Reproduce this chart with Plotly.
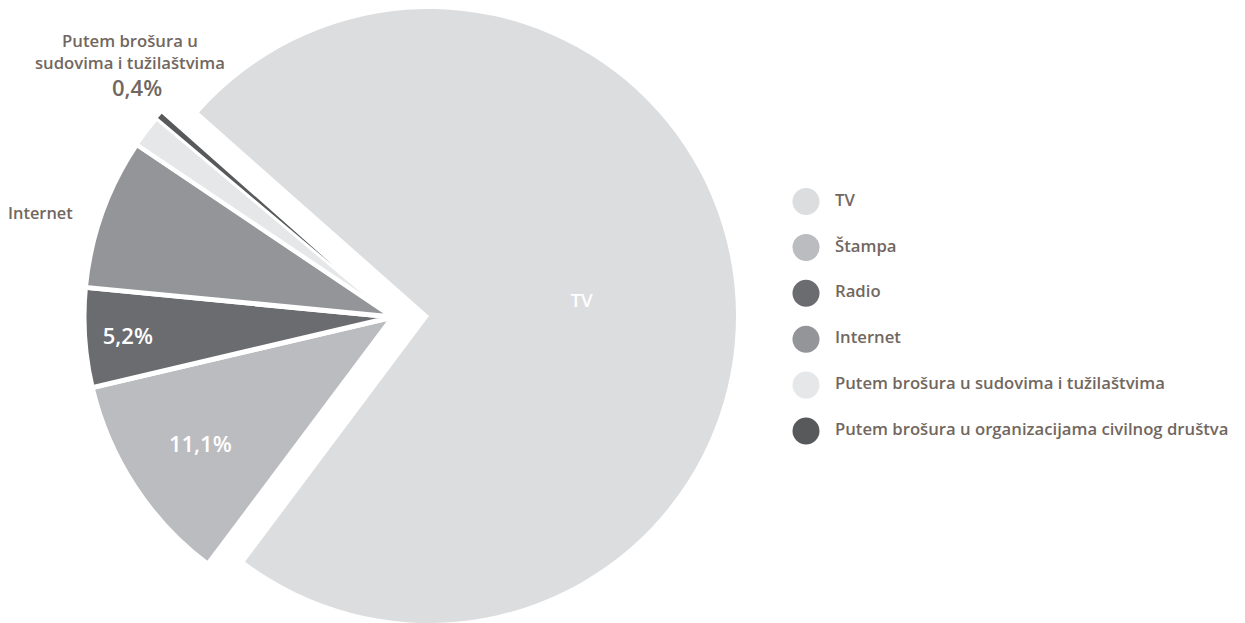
import plotly.graph_objects as go

labels = ["TV", "Štampa", "Radio", "Internet",
          "Putem brošura u sudovima i tužilaštvima",
          "Putem brošura u organizacijama civilnog društva"]
values = [73.7, 11.1, 5.2, 7.9, 1.7, 0.4]
colors = ["#dcdddf", "#bbbcbf", "#6b6c70", "#939598", "#e6e7e8", "#58595b"]
inside_text = ["TV", "11,1%", "5,2%", "", "", ""]
callout_title = "Putem brošura u<br>sudovima i tužilaštvima"
callout_value = "0,4%"

W, H = 1245, 623
TXT = "#716760"
FONT = "Open Sans"
CLEAR = "rgba(0,0,0,0)"

def xdom(cx, size):
    return [(cx - size / 2) / W, (cx + size / 2) / W]

fig = go.Figure()

# TV slice, pulled away to the right
tv_size = 614
fig.add_trace(go.Pie(
    labels=labels, values=values, sort=False, direction="clockwise",
    rotation=-48.5,
    marker=dict(colors=[colors[0]] + [CLEAR] * 5,
                line=dict(color="white", width=0)),
    text=[inside_text[0]] + [""] * 5, textinfo="text",
    textposition=["inside"] + ["none"] * 5,
    insidetextorientation="horizontal",
    textfont=dict(family=FONT, size=18.8, color="white", weight=600),
    domain=dict(x=xdom(421, tv_size), y=[(H - 615) / H, (H - 1) / H]),
    hoverinfo="skip", showlegend=False,
))

# the remaining slices
rest_size = 618
fig.add_trace(go.Pie(
    labels=labels, values=values, sort=False, direction="clockwise",
    rotation=-48.5,
    marker=dict(colors=[CLEAR] + colors[1:],
                line=dict(color="white", width=[0, 5, 5, 5, 4, 2])),
    text=[""] + inside_text[1:], textinfo="text",
    textposition=["none", "inside", "inside", "none", "none", "none"],
    insidetextorientation="horizontal",
    insidetextfont=dict(family=FONT, size=22, color="white", weight=600),
    domain=dict(x=xdom(385, rest_size), y=[(H - rest_size) / H, 1]),
    hoverinfo="skip", showlegend=False,
))

# legend drawn as circles + text
idx = list(range(len(labels)))
fig.add_trace(go.Scatter(
    x=[0] * len(labels), y=idx, mode="markers",
    marker=dict(size=27, color=colors, line=dict(width=0)),
    cliponaxis=False, hoverinfo="skip", showlegend=False,
))
fig.add_trace(go.Scatter(
    x=[0.0649] * len(labels), y=idx, mode="text", text=labels,
    textposition="middle right",
    textfont=dict(family=FONT, size=16.7, color=TXT, weight=600),
    cliponaxis=False, hoverinfo="skip", showlegend=False,
))

fig.update_layout(
    width=W, height=H,
    margin=dict(l=0, r=0, t=0, b=0, autoexpand=False),
    paper_bgcolor="white", plot_bgcolor="rgba(0,0,0,0)",
    xaxis=dict(domain=[798 / W, 1], range=[0, 1], visible=False, fixedrange=True),
    yaxis=dict(domain=[1 - 423 / H, 1 - 193.5 / H], range=[5, 0], visible=False, fixedrange=True),
    showlegend=False,
    annotations=[
        dict(text=labels[3], xref="paper", yref="paper", x=67 / W, y=1 - 204.5 / H,
             xanchor="right", yanchor="middle", showarrow=False,
             font=dict(family=FONT, size=16.4, color=TXT, weight=600)),
        dict(text=callout_title,
             xref="paper", yref="paper", x=122 / W, y=1 - 43.5 / H,
             xanchor="center", yanchor="middle", align="center", showarrow=False,
             font=dict(family=FONT, size=16.7, color=TXT, weight=600)),
        dict(text=callout_value,
             xref="paper", yref="paper", x=129 / W, y=1 - 79 / H,
             xanchor="center", yanchor="middle", align="center", showarrow=False,
             font=dict(family=FONT, size=22, color=TXT, weight=600)),
    ],
)

fig.write_html("out.html")
